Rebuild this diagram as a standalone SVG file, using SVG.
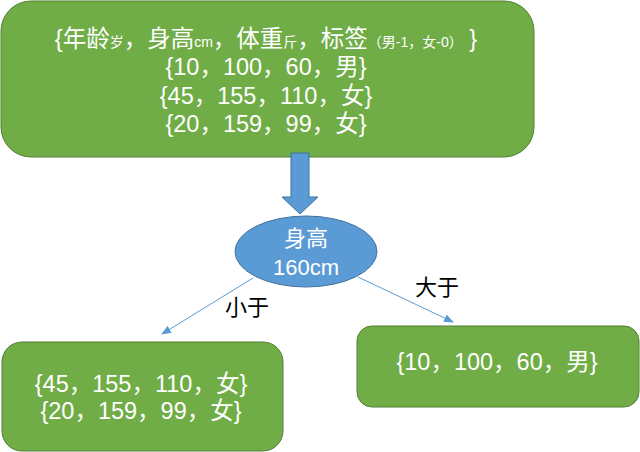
<svg xmlns="http://www.w3.org/2000/svg" width="640" height="452" viewBox="0 0 640 452">
<style>
.box{fill:#70AD47;stroke:#507E32;stroke-width:1}
.wt{fill:#FFFFFF;font-family:"Liberation Sans","Noto Sans CJK SC",sans-serif;font-size:23.5px;text-anchor:middle}
.sm{font-size:14px}
.lbl{fill:#000000;font-family:"Liberation Sans","Noto Sans CJK SC",sans-serif;font-size:22px}
.conn{stroke:#5B9BD5;stroke-width:1;fill:none}
</style>
<defs>
<marker id="ah" markerWidth="10" markerHeight="8" refX="9" refY="4" orient="auto" markerUnits="userSpaceOnUse">
<path d="M0,0 L10,4 L0,8 Z" fill="#5B9BD5"/>
</marker>
</defs>
<rect width="640" height="452" fill="#FFFFFF"/>
<g id="top">
<rect class="box" x="1" y="1" width="533" height="156" rx="30" ry="30"/>
<text class="wt" x="266" y="46.5">{年龄<tspan class="sm">岁</tspan>，身高<tspan class="sm">cm</tspan>，体重<tspan class="sm">斤</tspan>，标签<tspan class="sm">（男-1，女-0）</tspan> }</text>
<text class="wt" x="266" y="75">{10，100，60，男}</text>
<text class="wt" x="266" y="103.5">{45，155，110，女}</text>
<text class="wt" x="266" y="132">{20，159，99，女}</text>
</g>
<g id="down-arrow">
<path d="M291,153 L309,153 L309,197 L318,197 L300,214 L282,197 L291,197 Z" fill="#5B9BD5" stroke="#41719C" stroke-width="1"/>
</g>
<g id="decision">
<ellipse cx="306" cy="251.5" rx="71" ry="35.5" fill="#5B9BD5" stroke="#41719C" stroke-width="1"/>
<text class="wt" x="306" y="246" style="font-size:22px">身高</text>
<text class="wt" x="306" y="275" style="font-size:22px">160cm</text>
</g>
<g id="connectors">
<line class="conn" x1="253" y1="278" x2="162" y2="334" marker-end="url(#ah)"/>
<line class="conn" x1="358" y1="277" x2="453" y2="322" marker-end="url(#ah)"/>
<text class="lbl" x="225" y="315">小于</text>
<text class="lbl" x="415" y="295">大于</text>
</g>
<g id="left">
<rect class="box" x="2" y="342" width="281" height="109" rx="20" ry="20"/>
<text class="wt" x="141" y="392">{45，155，110，女}</text>
<text class="wt" x="141" y="419">{20，159，99，女}</text>
</g>
<g id="right">
<rect class="box" x="357" y="326" width="282" height="81" rx="15" ry="15"/>
<text class="wt" x="497" y="370">{10，100，60，男}</text>
</g>
</svg>
